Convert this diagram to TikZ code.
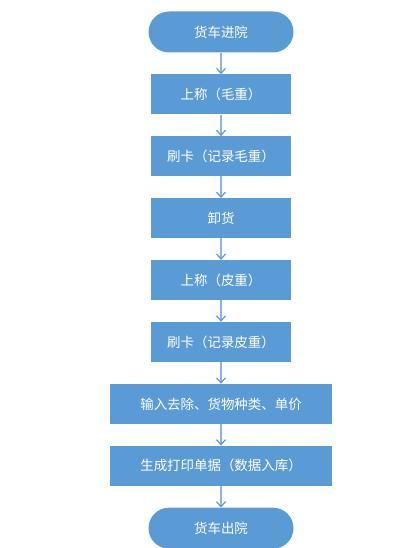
\documentclass[tikz,border=0pt]{standalone}
\usepackage{fontspec}
\newfontfamily\cjk{Noto Sans CJK SC}
\usetikzlibrary{positioning,arrows.meta}
\definecolor{boxblue}{HTML}{5B9BD5}
\definecolor{lineblue}{HTML}{8CB4E0}

\begin{document}
\begin{tikzpicture}
[x=1bp,y=-1bp,node distance=21.5bp,
terminal/.style={fill=boxblue,text=white,minimum width=145bp,minimum
  height=41bp,rounded corners=20.5bp,font=\cjk\fontsize{13.5}{16}\selectfont},
stepbox/.style={fill=boxblue,text=white,minimum width=140bp,minimum
  height=40bp,font=\cjk\fontsize{13.5}{16}\selectfont},
flow/.style={draw=lineblue,line width=1.2bp,-{Straight Barb[length=5bp,width=9bp,color=boxblue]}}]
\useasboundingbox (0,0) rectangle (407,548);
\node[terminal](in) at (221,32){货车进院}; \node[stepbox, below =of
  in](w1){上称（毛重）}; \node[stepbox, below =of w1](c1){刷卡（记录毛重）};
\node[stepbox, below =of c1](un){卸货}; \node[stepbox, below =of
  un](w2){上称（皮重）}; \node[stepbox, below =of w2](c2){刷卡（记录皮重）};
\node[stepbox,minimum width=222bp, below =of c2](inp){输入去除、货物种类、单价};
\node[stepbox,minimum width=222bp, below =of inp](pr){生成打印单据（数据入库）};
\node[terminal, below =of pr](out){货车出院};
\path[flow] (in) -- (w1); \path[flow] (w1) -- (c1); \path[flow] (c1)
-- (un); \path[flow] (un) -- (w2); \path[flow] (w2) -- (c2);
\path[flow] (c2) -- (inp); \path[flow] (inp) -- (pr); \path[flow]
(pr) -- (out);
\end{tikzpicture}
\end{document}
